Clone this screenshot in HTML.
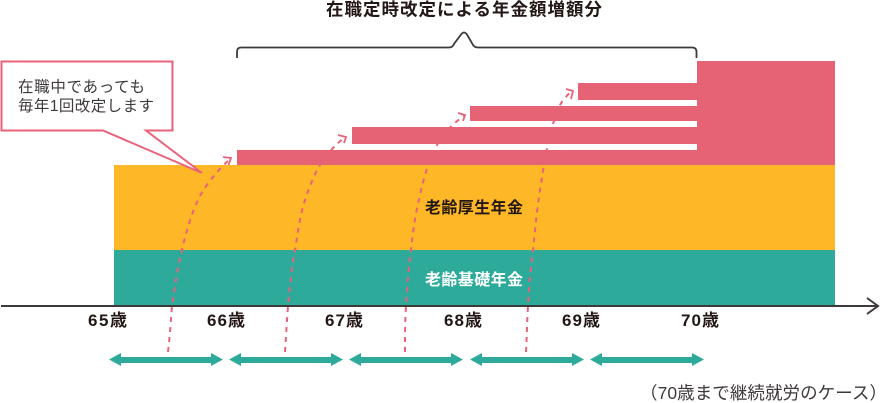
<!DOCTYPE html>
<html lang="ja"><head><meta charset="utf-8"><title>在職定時改定</title>
<style>
html,body{margin:0;padding:0;background:#fff}
svg{display:block}
text{font-family:"Liberation Sans","Noto Sans CJK JP",sans-serif}
</style></head><body>
<svg width="880" height="403" viewBox="0 0 880 403" xmlns="http://www.w3.org/2000/svg">
<rect x="114" y="165" width="721" height="85" fill="#feb727"/>
<rect x="114" y="250" width="721" height="56" fill="#2eaa9a"/>
<g fill="none" stroke="#e8637a" stroke-width="2" stroke-dasharray="5 5">
<path d="M168 352C170 335 171 318 172 306C175 285 178 265 182 250C186 232 191 215 198 200C205 185 218 170 230 159"/>
<path d="M285 352C286 335 287 320 288 306C290 285 292 265 295 250C298 232 300 215 305 200C309 188 314 175 320 165C327 154 335 145 345 137"/>
<path d="M405 352C405 335 405 320 406 306C407 285 409 265 411 250C413 232 415 215 419 200C423 180 428 162 437 145C442 135 452 124 464 116"/>
<path d="M526 352C527 335 527 320 528 306C529 285 531 265 533 250C535 232 536 218 538 204C540 190 542 177 544 165C545 158 546 152 548 145C549 138 551 131 553 124C555 117 557 111 560 105C563 100 567 95 572 91"/>
</g>
<g fill="none" stroke="#e8637a" stroke-width="1.800">
<path d="M223 157L231 158L228.500 165"/>
<path d="M338 135L346 137L344 143"/>
<path d="M458 113L465 115L463 121"/>
<path d="M566 89L573 91L571 99"/>
</g>
<g fill="#e66375">
<rect x="697" y="61" width="138" height="104"/>
<rect x="237" y="150" width="460" height="15"/>
<rect x="352" y="127" width="345" height="17"/>
<rect x="470" y="106" width="227" height="15"/>
<rect x="578" y="83" width="119" height="17"/>
</g>
<path d="M237 58V52Q237 47.500 241 47.500H449Q452.500 47.500 454 44L461 34.500Q464 30.500 467 34.500L472.500 44Q474 47.500 478 47.500H692Q696.500 47.500 696.500 52V58" fill="none" stroke="#3e3a39" stroke-width="1.800"/>
<path d="M1.500 61.500H172.500V130.500H146L202 173L103 130.500H1.500Z" fill="#fff" stroke="#e8637a" stroke-width="2"/>
<path d="M1 306H878M867 298L878 306L867 314" fill="none" stroke="#3e3a39" stroke-width="2"/>
<g fill="#2eaa9a">
<path d="M109 359.500L121 353V357H211V353L223 359.500L211 366V363H121V366Z"/>
<path d="M229 359.500L241 353V357H331V353L343 359.500L331 366V363H241V366Z"/>
<path d="M349 359.500L361 353V357H451V353L463 359.500L451 366V363H361V366Z"/>
<path d="M470 359.500L482 353V357H572V353L584 359.500L572 366V363H482V366Z"/>
<path d="M590 359.500L602 353V357H692V353L704 359.500L692 366V363H602V366Z"/>
</g>
<g fill="#231815" font-weight="700">
<text x="326" y="15.500" font-size="17.500" textLength="276" lengthAdjust="spacing">在職定時改定による年金額増額分</text>
<text x="425" y="213" font-size="16" textLength="98" lengthAdjust="spacing">老齢厚生年金</text>
<text x="425" y="285" font-size="16" textLength="98" lengthAdjust="spacing" fill="#fff">老齢基礎年金</text>
<text x="88" y="326" font-size="17" textLength="39" lengthAdjust="spacing">65歳</text>
<text x="207" y="326" font-size="17" textLength="38" lengthAdjust="spacing">66歳</text>
<text x="325" y="326" font-size="17" textLength="38" lengthAdjust="spacing">67歳</text>
<text x="444" y="326" font-size="17" textLength="38" lengthAdjust="spacing">68歳</text>
<text x="562" y="326" font-size="17" textLength="38" lengthAdjust="spacing">69歳</text>
<text x="681" y="326" font-size="17" textLength="38" lengthAdjust="spacing">70歳</text>
</g>
<g fill="#3e3a39">
<text x="18" y="92" font-size="15.500" textLength="127" lengthAdjust="spacing">在職中であっても</text>
<text x="18" y="111" font-size="15.500" textLength="136" lengthAdjust="spacing">毎年1回改定します</text>
<text x="640" y="399" font-size="17.500" textLength="247" lengthAdjust="spacing">（70歳まで継続就労のケース）</text>
</g>
</svg>
</body></html>
